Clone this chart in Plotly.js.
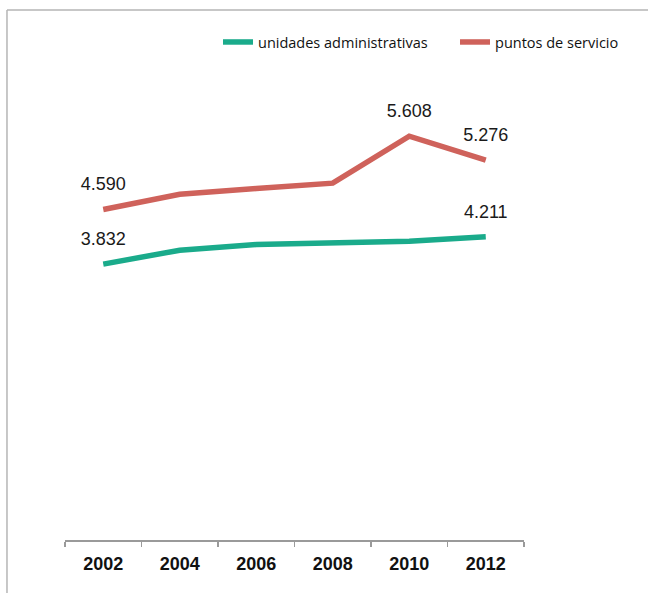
<!DOCTYPE html>
<html>
<head>
<meta charset="utf-8">
<script src="https://cdn.plot.ly/plotly-3.0.1.min.js"></script>
<style>
html,body{margin:0;padding:0;background:#fff;}
#chart{width:648px;height:593px;}
</style>
</head>
<body>
<div id="chart"></div>
<script>
const years = ['2002','2004','2006','2008','2010','2012'];
const unidades = [3832, 4025, 4104, 4118, 4150, 4211];
const puntos = [4590, 4803, 4882, 4956, 5608, 5276];
const seriesNames = ['unidades administrativas', 'puntos de servicio'];
const unidadesLabelIdx = [0, 5];
const puntosLabelIdx = [0, 4, 5];

const green = '#1AAB8B';
const red = '#CF625B';

function fmt(v){ return String(v).replace(/\B(?=(\d{3})+(?!\d))/g, '.'); }
function labelsFor(vals, idx){ return vals.map((v, i) => idx.includes(i) ? fmt(v) : ''); }

const labelFont = {family: 'Arial, Liberation Sans, sans-serif', size: 18, color: '#1a1a1a'};

const traces = [
  {x: years, y: unidades, name: seriesNames[0], type: 'scatter', mode: 'lines',
   line: {color: green, width: 5.5}, hoverinfo: 'skip', legend: 'legend'},
  {x: years, y: puntos, name: seriesNames[1], type: 'scatter', mode: 'lines',
   line: {color: red, width: 5.5}, hoverinfo: 'skip', legend: 'legend2'},
  {x: years, y: unidades, type: 'scatter', mode: 'markers+text', showlegend: false,
   text: labelsFor(unidades, unidadesLabelIdx), textposition: 'top center', textfont: labelFont,
   marker: {size: 22, opacity: 0}, hoverinfo: 'skip', cliponaxis: false},
  {x: years, y: puntos, type: 'scatter', mode: 'markers+text', showlegend: false,
   text: labelsFor(puntos, puntosLabelIdx), textposition: 'top center', textfont: labelFont,
   marker: {size: 22, opacity: 0}, hoverinfo: 'skip', cliponaxis: false}
];

const legendFont = {family: 'Open Sans, sans-serif', size: 14.5, color: '#111'};

const layout = {
  width: 648, height: 593,
  margin: {l: 65, r: 124, t: 36, b: 53},
  paper_bgcolor: '#fff', plot_bgcolor: '#fff',
  showlegend: true,
  legend: {orientation: 'h', x: 0.3333, y: 0.988, xanchor: 'left', yanchor: 'middle',
    font: legendFont, bgcolor: 'rgba(0,0,0,0)'},
  legend2: {orientation: 'h', x: 0.8497, y: 0.988, xanchor: 'left', yanchor: 'middle',
    font: legendFont, bgcolor: 'rgba(0,0,0,0)'},
  xaxis: {type: 'category', range: [-0.5, 5.5], showgrid: false, zeroline: false,
    showline: true, linecolor: '#9a9a9a', linewidth: 1.5,
    ticks: 'outside', tickson: 'boundaries', ticklen: 5, tickcolor: '#9a9a9a', tickwidth: 1.5,
    ticklabelstandoff: 7,
    tickfont: {family: 'Arial, Liberation Sans, sans-serif', size: 18, color: '#111', weight: 'bold'},
    fixedrange: true},
  yaxis: {range: [0, 7000], visible: false, fixedrange: true},
  shapes: [
    {type: 'line', xref: 'paper', yref: 'paper', x0: -0.1264, x1: -0.1264, y0: -0.2, y1: 1.0516,
     line: {color: '#b5b5b5', width: 1.5}},
    {type: 'line', xref: 'paper', yref: 'paper', x0: -0.1264, x1: 1.4, y0: 1.0516, y1: 1.0516,
     line: {color: '#b5b5b5', width: 1.5}}
  ]
};

Plotly.newPlot('chart', traces, layout, {displayModeBar: false, staticPlot: true});
</script>
</body>
</html>
